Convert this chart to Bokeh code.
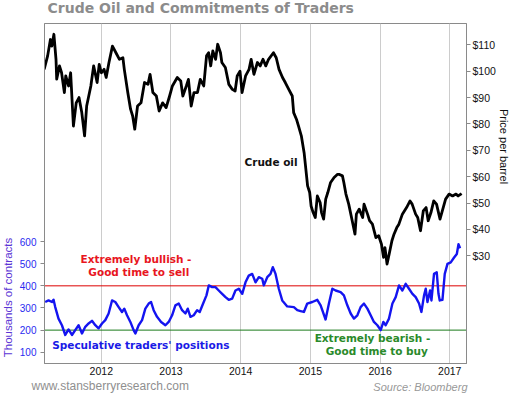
import math
from bokeh.plotting import figure
from bokeh.layouts import column, row
from bokeh.models import (Range1d, LinearAxis, FixedTicker, PrintfTickFormatter,
                          Span, Label)
from bokeh.embed import file_html
from bokeh.resources import INLINE

# ---- data ----
oil_years = [
    2011.18, 2011.23, 2011.27, 2011.29, 2011.32, 2011.35, 2011.36, 2011.40, 2011.43, 2011.47,
    2011.49, 2011.53, 2011.56, 2011.60, 2011.64, 2011.68, 2011.72, 2011.76, 2011.79, 2011.85,
    2011.89, 2011.94, 2011.97, 2012.00, 2012.04, 2012.07, 2012.11, 2012.16, 2012.21, 2012.26,
    2012.31, 2012.33, 2012.38, 2012.42, 2012.45, 2012.48, 2012.52, 2012.57, 2012.62, 2012.67,
    2012.70, 2012.74, 2012.79, 2012.83, 2012.88, 2012.93, 2012.98, 2013.02, 2013.09, 2013.14,
    2013.17, 2013.22, 2013.25, 2013.29, 2013.33, 2013.38, 2013.42, 2013.47, 2013.51, 2013.54,
    2013.57, 2013.60, 2013.64, 2013.67, 2013.71, 2013.73, 2013.78, 2013.83, 2013.88, 2013.92,
    2013.95, 2013.99, 2014.02, 2014.07, 2014.12, 2014.15, 2014.19, 2014.24, 2014.28, 2014.32,
    2014.36, 2014.40, 2014.47, 2014.51, 2014.55, 2014.60, 2014.64, 2014.69, 2014.74, 2014.76,
    2014.80, 2014.83, 2014.87, 2014.91, 2014.93, 2014.96, 2014.99, 2015.01, 2015.04, 2015.07,
    2015.10, 2015.14, 2015.16, 2015.19, 2015.22, 2015.25, 2015.29, 2015.34, 2015.39, 2015.41,
    2015.46, 2015.48, 2015.51, 2015.55, 2015.60, 2015.64, 2015.66, 2015.70, 2015.75, 2015.77,
    2015.82, 2015.85, 2015.89, 2015.94, 2015.98, 2016.02, 2016.05, 2016.07, 2016.10, 2016.13,
    2016.17, 2016.20, 2016.24, 2016.27, 2016.32, 2016.38, 2016.43, 2016.46, 2016.51, 2016.54,
    2016.58, 2016.62, 2016.66, 2016.69, 2016.73, 2016.77, 2016.81, 2016.86, 2016.90, 2016.94,
    2016.99, 2017.04, 2017.09, 2017.12, 2017.17,
]
oil_prices = [
    100.7, 105.8, 112.0, 109.5, 114.0, 104.5, 97.0, 102.0, 99.4, 91.9,
    98.2, 94.4, 99.4, 79.2, 88.0, 90.0, 84.3, 75.5, 86.8, 94.4,
    102.0, 95.7, 102.6, 99.4, 100.7, 97.6, 103.3, 109.5, 107.0, 104.5,
    105.1, 100.7, 91.9, 85.6, 83.0, 78.0, 86.8, 88.0, 95.7, 95.0,
    98.8, 91.9, 90.6, 84.9, 88.0, 86.2, 90.6, 94.4, 97.6, 96.3,
    90.6, 94.4, 96.9, 86.8, 91.9, 91.9, 96.9, 94.4, 105.8, 107.0,
    102.0, 107.7, 104.5, 110.2, 107.0, 103.3, 101.4, 95.0, 93.1, 92.5,
    98.2, 100.0, 91.9, 98.2, 100.7, 104.5, 98.8, 103.3, 102.0, 104.5,
    102.0, 104.5, 107.0, 105.1, 100.7, 97.6, 95.7, 93.1, 90.6, 84.3,
    81.8, 79.2, 75.5, 69.1, 64.1, 56.5, 54.0, 48.9, 46.4, 44.5,
    52.7, 50.2, 46.4, 43.9, 51.5, 54.0, 57.8, 59.7, 60.9, 60.9,
    60.3, 57.8, 53.4, 49.6, 43.3, 38.2, 45.8, 47.7, 44.5, 49.6,
    45.8, 43.3, 42.0, 36.9, 37.6, 34.4, 29.4, 33.1, 26.9, 30.6,
    35.7, 38.2, 40.7, 42.0, 45.8, 48.3, 50.8, 49.6, 45.8, 44.5,
    39.5, 47.0, 48.3, 43.3, 46.4, 50.8, 49.6, 43.9, 47.7, 51.5,
    53.4, 52.7, 53.4, 52.7, 53.6,
]
cot_years = [
    2011.195, 2011.243, 2011.292, 2011.315, 2011.339, 2011.386, 2011.435, 2011.483, 2011.530, 2011.579,
    2011.626, 2011.674, 2011.723, 2011.770, 2011.818, 2011.866, 2011.914, 2011.961, 2012.010, 2012.057,
    2012.105, 2012.154, 2012.201, 2012.249, 2012.297, 2012.330, 2012.369, 2012.417, 2012.464, 2012.489,
    2012.536, 2012.585, 2012.632, 2012.680, 2012.714, 2012.751, 2012.800, 2012.858, 2012.920, 2012.967,
    2013.016, 2013.063, 2013.111, 2013.159, 2013.207, 2013.240, 2013.279, 2013.326, 2013.375, 2013.412,
    2013.461, 2013.509, 2013.542, 2013.591, 2013.638, 2013.685, 2013.734, 2013.782, 2013.829, 2013.878,
    2013.925, 2013.973, 2014.022, 2014.069, 2014.116, 2014.165, 2014.213, 2014.260, 2014.309, 2014.332,
    2014.381, 2014.428, 2014.461, 2014.500, 2014.547, 2014.596, 2014.668, 2014.763, 2014.812, 2014.859,
    2014.907, 2014.955, 2015.027, 2015.099, 2015.147, 2015.218, 2015.266, 2015.315, 2015.362, 2015.434,
    2015.481, 2015.530, 2015.578, 2015.625, 2015.674, 2015.721, 2015.769, 2015.818, 2015.865, 2015.912,
    2015.961, 2016.009, 2016.047, 2016.080, 2016.128, 2016.177, 2016.224, 2016.272, 2016.320, 2016.368,
    2016.415, 2016.464, 2016.511, 2016.559, 2016.593, 2016.631, 2016.655, 2016.680, 2016.717, 2016.737,
    2016.774, 2016.813, 2016.838, 2016.856, 2016.895, 2016.928, 2016.967, 2017.014, 2017.062, 2017.101,
    2017.125, 2017.148,
]
cot_positions = [
    327, 334, 327, 337, 304, 252, 222, 178, 203, 178,
    200, 222, 185, 215, 230, 242, 222, 208, 230, 245,
    275, 334, 327, 304, 282, 297, 267, 237, 200, 185,
    222, 245, 297, 320, 327, 290, 260, 237, 222, 237,
    267, 312, 320, 290, 275, 297, 260, 267, 290, 282,
    320, 357, 402, 394, 394, 379, 364, 349, 337, 342,
    379, 387, 364, 416, 446, 454, 416, 439, 432, 402,
    439, 454, 484, 454, 387, 334, 307, 304, 290, 286,
    282, 320, 327, 337, 312, 248, 320, 387, 379, 372,
    357, 312, 275, 252, 267, 304, 320, 297, 267, 237,
    222, 200, 237, 222, 252, 320, 349, 402, 379, 409,
    387, 364, 349, 320, 282, 357, 387, 327, 379, 334,
    454, 461, 364, 334, 337, 454, 499, 506, 528, 544,
    588, 570,
]
year_ticks = [2012, 2013, 2014, 2015, 2016, 2017]
price_ticks = [30, 40, 50, 60, 70, 80, 90, 100, 110]
cot_ticks = [100, 200, 300, 400, 500, 600]
bullish_level = 400
bearish_level = 200

AXIS_GRAY = "#8a8a8a"
BOLD = "DejaVu Sans"
W = 510
TOP_H, MAIN_H, FOOT_H = 22, 356, 19
LEFT_W, RIGHT_W = 14, 12


def strip(w, h):
    f = figure(width=w, height=h, output_backend="svg", toolbar_location=None, title=None,
               x_range=Range1d(0, w), y_range=Range1d(h, 0),
               x_axis_location=None, y_axis_location=None, frame_align=False,
               min_border_left=0, min_border_right=0, min_border_top=0, min_border_bottom=0)
    f.outline_line_color = None
    f.grid.visible = False
    f.background_fill_color = "white"
    f.border_fill_color = "white"
    return f


# ---- title strip ----
top = strip(W, TOP_H)
top.add_layout(Label(x=47, y=15, text="Crude Oil and Commitments of Traders",
                     text_font=BOLD, text_font_style="bold", text_font_size="14px",
                     text_color="#8c8c8c"))

# ---- side strips with the axis titles ----
lstrip = strip(LEFT_W, MAIN_H)
lstrip.add_layout(Label(x=7.5, y=297 - TOP_H, text="Thousands of contracts",
                        angle=math.pi / 2, text_align="center", text_baseline="middle",
                        text_font="Liberation Sans", text_font_size="11.5px",
                        text_color="#5b35d5"))
rstrip = strip(RIGHT_W, MAIN_H)
rstrip.add_layout(Label(x=5.5, y=146 - TOP_H, text="Price per barrel",
                        angle=-math.pi / 2, text_align="center", text_baseline="middle",
                        text_font="Liberation Sans", text_font_size="11px",
                        text_color="#111111"))

# ---- main chart ----
p = figure(width=W - LEFT_W - RIGHT_W, height=MAIN_H, output_backend="svg",
           toolbar_location=None, title=None,
           x_range=Range1d(2011.185, 2017.24), y_range=Range1d(-10.83, 118.08),
           y_axis_location=None, frame_align=False,
           min_border_left=44 - LEFT_W, min_border_right=(W - RIGHT_W) - 466,
           min_border_top=1, min_border_bottom=15)
p.extra_y_ranges = {"cot": Range1d(49.2, 1585)}
p.outline_line_color = AXIS_GRAY
p.background_fill_color = "white"
p.border_fill_color = "white"

xt = FixedTicker(ticks=year_ticks)
p.xaxis.ticker = xt
p.xaxis.formatter = PrintfTickFormatter(format="%d")
p.xaxis.major_tick_out = 0
p.xaxis.major_tick_in = 0
p.xaxis.minor_tick_out = 0
p.xaxis.minor_tick_in = 0
p.xaxis.axis_line_color = AXIS_GRAY
p.xaxis.major_label_standoff = 3
p.xaxis.major_label_text_font = "Liberation Sans"
p.xaxis.major_label_text_font_size = "10.5px"
p.xaxis.major_label_text_color = "#111111"
p.xgrid.ticker = xt
p.xgrid.grid_line_color = "#cccccc"
p.ygrid.visible = False

left = LinearAxis(y_range_name="cot", ticker=FixedTicker(ticks=cot_ticks))
left.major_label_text_color = "#2a2af0"
left.major_label_text_font = "Liberation Sans"
left.major_label_text_font_size = "10px"
left.major_tick_out = 4
left.major_tick_in = 0
left.minor_tick_out = 0
left.minor_tick_in = 0
left.axis_line_color = AXIS_GRAY
left.major_tick_line_color = AXIS_GRAY
left.major_label_standoff = 4
p.add_layout(left, "left")

right = LinearAxis(ticker=FixedTicker(ticks=price_ticks),
                   formatter=PrintfTickFormatter(format="$%d"))
right.major_label_text_color = "#111111"
right.major_label_text_font = "Liberation Sans"
right.major_label_text_font_size = "10.5px"
right.major_tick_out = 4
right.major_tick_in = 0
right.minor_tick_out = 0
right.minor_tick_in = 0
right.axis_line_color = AXIS_GRAY
right.major_tick_line_color = AXIS_GRAY
right.major_label_standoff = 2
p.add_layout(right, "right")

p.add_layout(Span(location=bullish_level, dimension="width", y_range_name="cot",
                  line_color="#dd0000", line_width=1, level="underlay"))
p.add_layout(Span(location=bearish_level, dimension="width", y_range_name="cot",
                  line_color="#1a7a1a", line_width=1, level="underlay"))

p.line(oil_years, oil_prices, line_color="black", line_width=2.8, line_join="round")
p.line(cot_years, cot_positions, y_range_name="cot", line_color="#1414f0",
       line_width=2.4, line_join="round")


def add_label(x, y, text, **kw):
    p.add_layout(Label(x=x, y=y, x_units="screen", y_units="screen", text=text,
                       text_font=BOLD, text_font_style="bold", text_font_size="10.5px", **kw))


add_label(200.0, 195.7, "Crude oil", text_color="#111111")
add_label(91.5, 99.0, "Extremely bullish -", text_color="#e8161e", text_align="center")
add_label(94.3, 85.7, "Good time to sell", text_color="#e8161e", text_align="center")
add_label(328.0, 19.3, "Extremely bearish -", text_color="#2a8a2a", text_align="center")
add_label(332.3, 7.0, "Good time to buy", text_color="#2a8a2a", text_align="center")
add_label(7.7, 12.6, "Speculative traders' positions", text_color="#1a1ae6")

# ---- footer strip ----
foot = strip(W, FOOT_H)
foot.add_layout(Label(x=31, y=14, text="www.stansberryresearch.com",
                      text_font="Liberation Sans", text_font_size="12px", text_color="#8f8f8f"))
foot.add_layout(Label(x=467, y=14, text="Source: Bloomberg", text_align="right",
                      text_font="Liberation Sans", text_font_style="italic",
                      text_font_size="11px", text_color="#999999"))

layout = column(top, row(lstrip, p, rstrip, spacing=0), foot, spacing=0)
open("out.html", "w").write(file_html(layout, INLINE))
